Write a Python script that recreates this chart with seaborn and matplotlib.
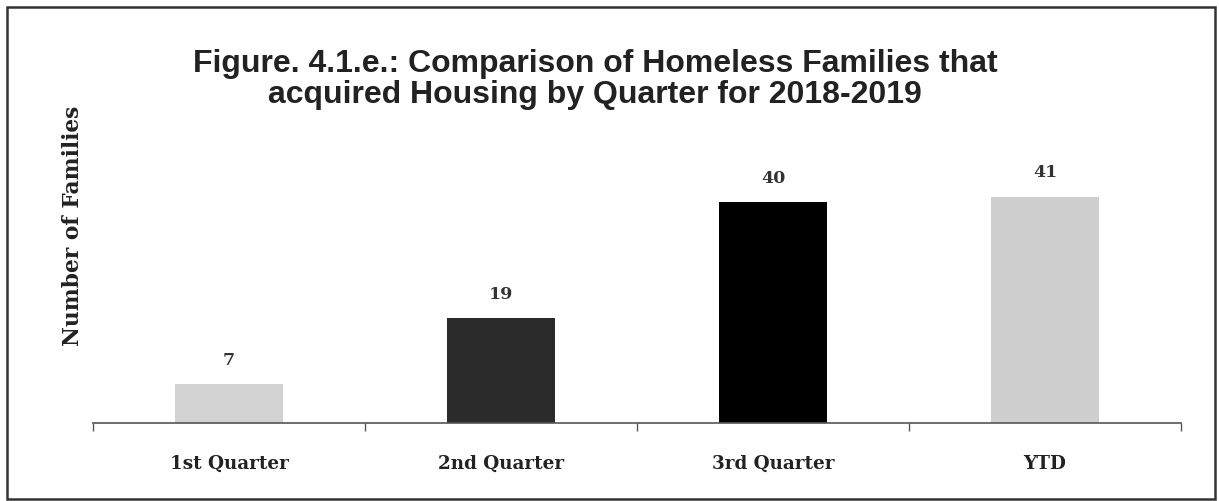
import matplotlib
matplotlib.use("Agg")
import matplotlib.pyplot as plt
import seaborn as sns
import pandas as pd
from matplotlib.patches import Rectangle

quarters = ["1st Quarter", "2nd Quarter", "3rd Quarter", "YTD"]
families = [7, 19, 40, 41]
bar_colors = ["#d2d2d2", "#2b2b2b", "#000000", "#cfcfcf"]

title_text = ("Figure. 4.1.e.: Comparison of Homeless Families that\n"
              "acquired Housing by Quarter for 2018-2019")
ylabel_text = "Number of Families"

sns.set_theme(style="white")
plt.rcParams["font.family"] = ["DejaVu Serif", "Liberation Serif"]

df = pd.DataFrame({"quarter": quarters, "families": families})

fig = plt.figure(figsize=(12.19, 5.02), dpi=100)
ax = fig.add_axes([0.0763, 0.1554, 0.8925, 0.528])

sns.barplot(data=df, x="quarter", y="families", hue="quarter",
            palette=bar_colors, width=0.4, legend=False, ax=ax,
            edgecolor="none")

ax.set_ylim(0, 48)
ax.set_xlim(-0.5, len(quarters) - 0.5)

for i, v in enumerate(families):
    ax.text(i, v + 3.0, str(v), ha="center", va="bottom",
            fontsize=12.5, fontweight="bold", color="#333333")

for s in ["top", "right", "left"]:
    ax.spines[s].set_visible(False)
ax.spines["bottom"].set_color("#555555")
ax.spines["bottom"].set_linewidth(1.2)

ax.set_yticks([])
ax.set_xticks(range(len(quarters)))
ax.set_xticklabels(quarters, fontsize=13.2, fontweight="bold", color="#222222")
ax.tick_params(axis="x", which="major", length=0, pad=22)
ax.set_xticks([i - 0.5 for i in range(len(quarters) + 1)], minor=True)
ax.tick_params(axis="x", which="minor", length=6, width=1, color="#555555",
               direction="out", bottom=True)
ax.set_xlabel("")
ax.set_ylabel("")

fig.text(0.06, 0.55, ylabel_text, rotation=90, ha="center", va="center",
         fontsize=15.7, fontweight="bold", color="#222222")

fig.text(0.488, 0.781, title_text, ha="center", va="bottom",
         fontsize=23, fontweight="bold", color="#222222",
         family=["Liberation Sans", "DejaVu Sans"], linespacing=1.05)

fig.patches.append(Rectangle((0.006, 0.004), 0.991, 0.98,
                             transform=fig.transFigure, fill=False,
                             edgecolor="#333333", linewidth=1.8))

fig.savefig("out.png", dpi=100)
